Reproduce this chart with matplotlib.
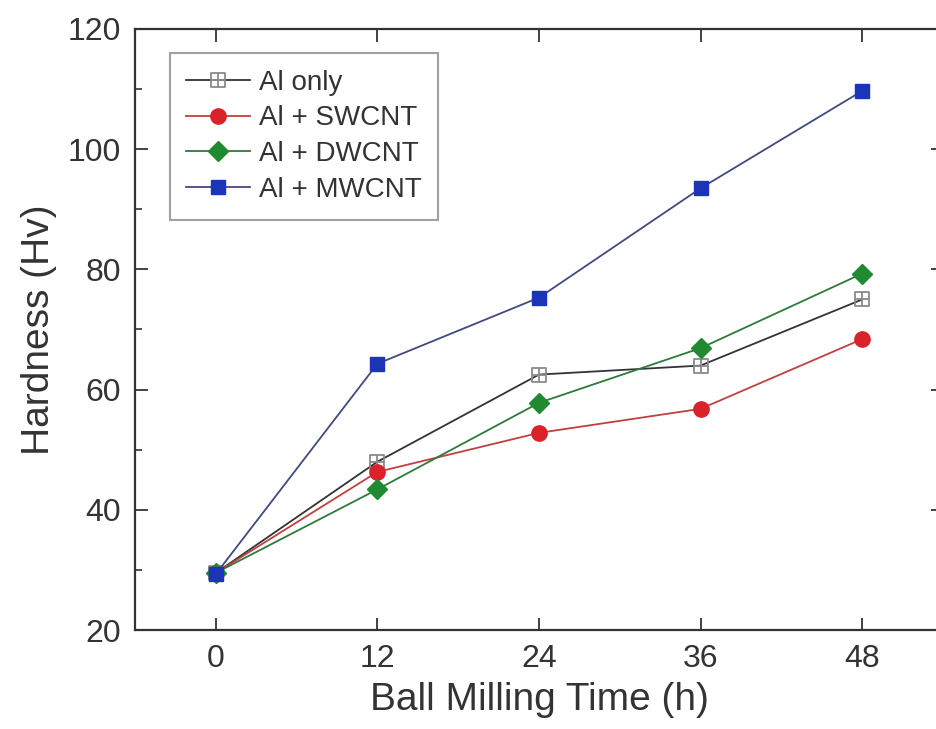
import matplotlib.pyplot as plt
from matplotlib.path import Path
from matplotlib.ticker import MultipleLocator

plt.rcParams['font.family'] = ['Liberation Sans', 'DejaVu Sans']

# ball milling time (h)
time_h = [0, 12, 24, 36, 48]

# hardness (Hv)
al_only = [29.5, 48.0, 62.5, 64.0, 75.0]
al_swcnt = [29.5, 46.3, 52.8, 56.8, 68.4]
al_dwcnt = [29.5, 43.4, 57.8, 66.9, 79.3]
al_mwcnt = [29.3, 64.3, 75.3, 93.5, 109.7]

labels = ['Al only', 'Al + SWCNT', 'Al + DWCNT', 'Al + MWCNT']

# square with a cross in it, for the "Al only" marker
box_cross = Path(
    [(-1, -1), (1, -1), (1, 1), (-1, 1), (-1, -1), (0, -1), (0, 1), (-1, 0), (1, 0)],
    [Path.MOVETO, Path.LINETO, Path.LINETO, Path.LINETO, Path.CLOSEPOLY,
     Path.MOVETO, Path.LINETO, Path.MOVETO, Path.LINETO])

fig = plt.figure(figsize=(9.36, 7.29), dpi=100)
ax = fig.add_axes([135/936, 1 - 630/729, (943 - 135)/936, (630 - 29)/729])

ax.plot(time_h, al_only, color='#333333', lw=1.3, marker=box_cross, ms=10,
        mfc='none', mec='#8a8a8a', mew=1.3, label=labels[0])
ax.plot(time_h, al_swcnt, color='#c04040', lw=1.3, marker='o', ms=11,
        mfc='#d9222a', mec='#d9222a', label=labels[1])
ax.plot(time_h, al_dwcnt, color='#2e7a3a', lw=1.3, marker='D', ms=10,
        mfc='#1f8a30', mec='#1f8a30', label=labels[2])
ax.plot(time_h, al_mwcnt, color='#404a80', lw=1.3, marker='s', ms=10,
        mfc='#1c34b8', mec='#1c34b8', label=labels[3])

ax.set_xlim(-6, 54)
ax.set_ylim(20, 120)
ax.set_xticks(time_h)
ax.yaxis.set_major_locator(MultipleLocator(20))
ax.yaxis.set_minor_locator(MultipleLocator(10))

ax.tick_params(which='both', direction='in', top=True, right=True,
               labelsize=23, colors='#333333')
ax.tick_params(which='major', length=9, width=1.3, pad=10)
ax.tick_params(which='minor', length=5, width=1.2)
for sp in ax.spines.values():
    sp.set_linewidth(1.6)
    sp.set_color('#333333')

ax.set_xlabel('Ball Milling Time (h)', fontsize=28, color='#333333', labelpad=6)
ax.set_ylabel('Hardness (Hv)', fontsize=28, color='#333333', labelpad=8)

leg = ax.legend(loc='upper left', bbox_to_anchor=(0.043, 0.96), fontsize=20,
                frameon=True, fancybox=False, edgecolor='#8a8a8a',
                handlelength=2.3, handletextpad=0.3, labelspacing=0.35,
                borderpad=0.6, borderaxespad=0, labelcolor='#333333')
leg.get_frame().set_linewidth(1.5)

fig.savefig('out.png', dpi=100)
